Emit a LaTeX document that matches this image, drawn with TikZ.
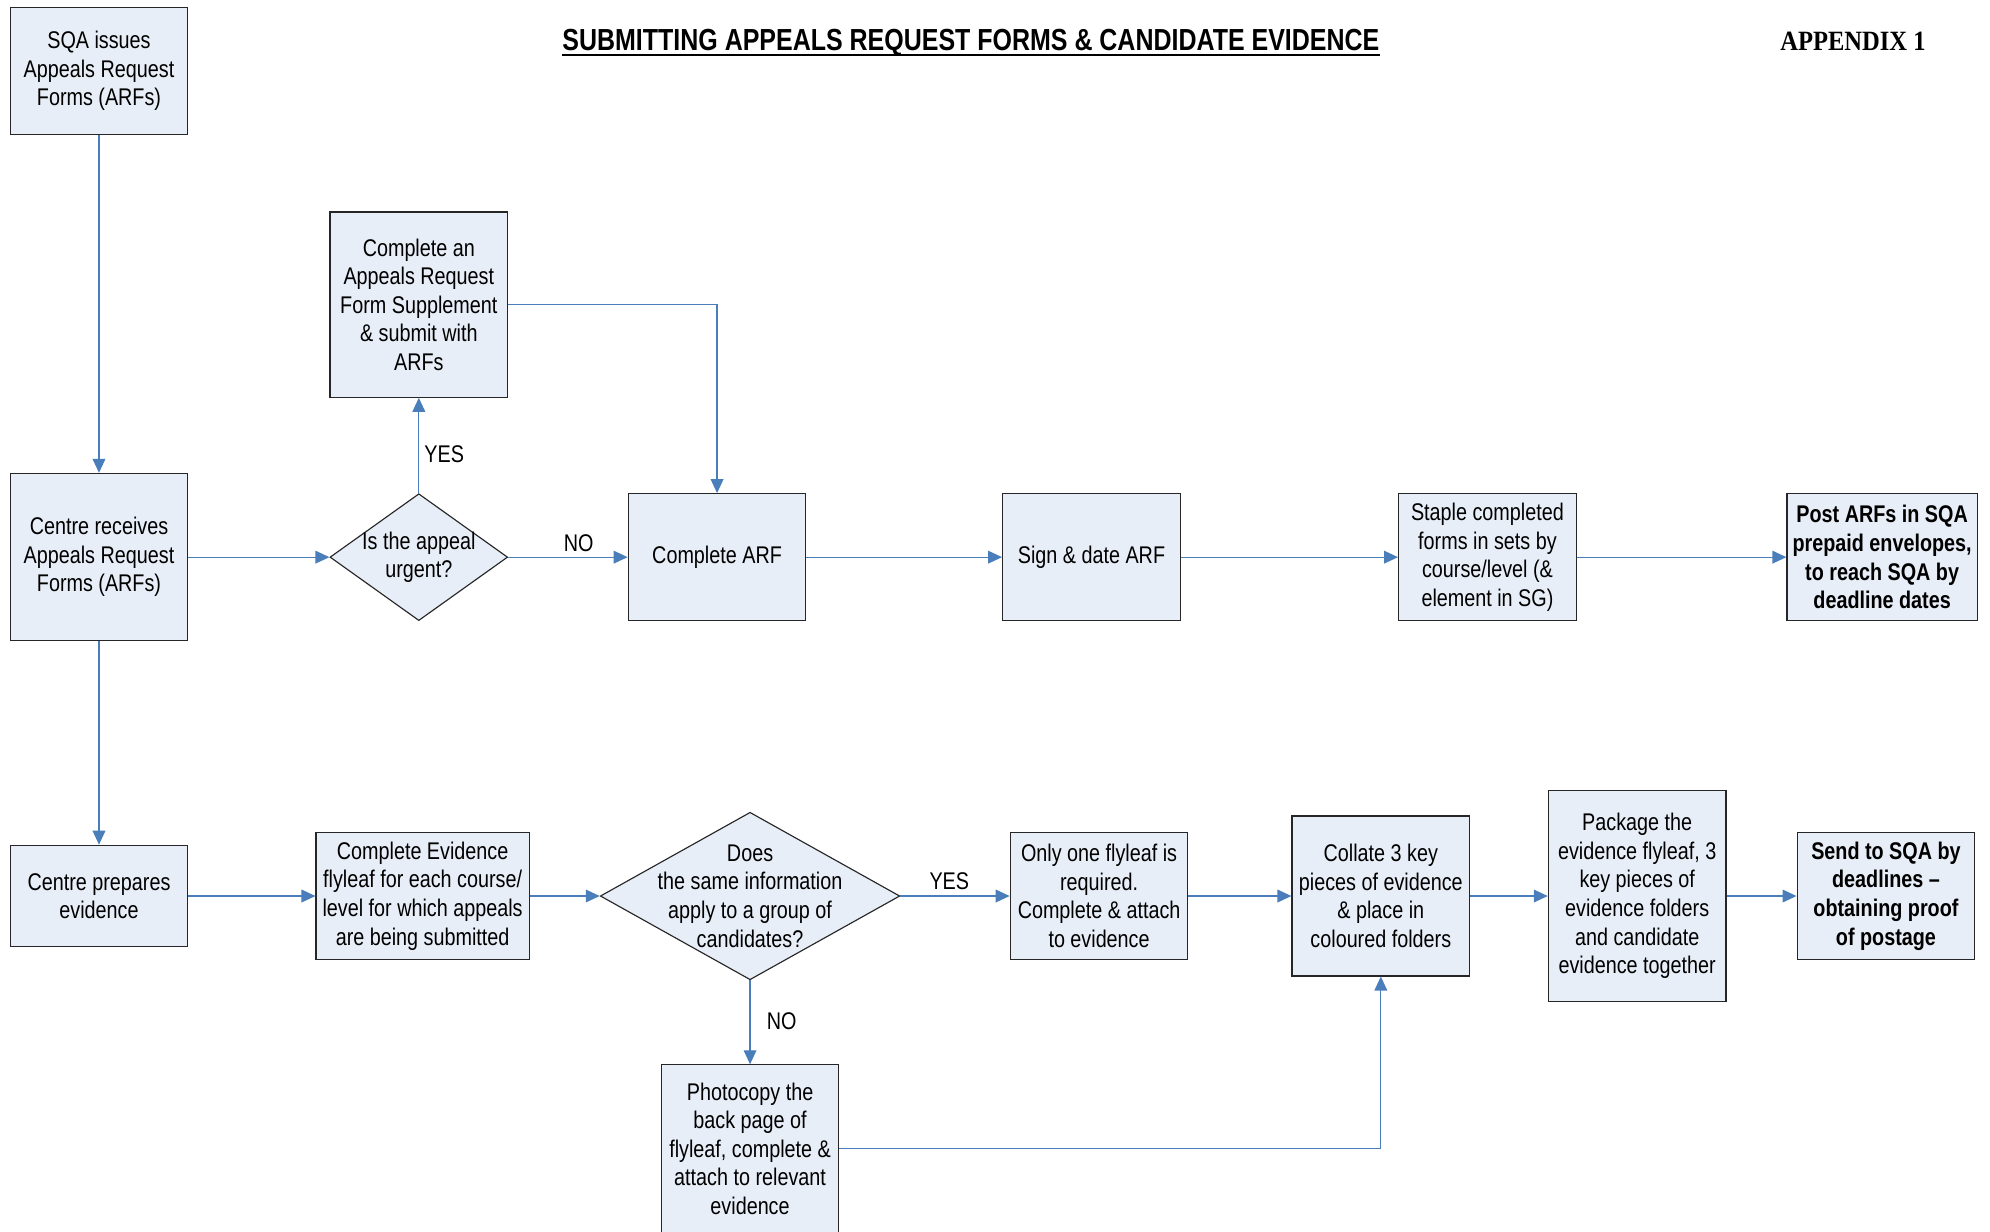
\documentclass[tikz,border=0pt]{standalone}
\usepackage{fontspec}
\setmainfont{Liberation Sans}[FakeStretch=0.82]
\newfontfamily\appxfont{Liberation Serif}[FakeStretch=0.88]
\usetikzlibrary{arrows.meta}
\usetikzlibrary{shapes.geometric}
\definecolor{boxfill}{RGB}{232,238,247}
\definecolor{flowblue}{RGB}{74,126,187}

\begin{document}
\begin{tikzpicture}[x=1pt,y=-1pt]
\tikzset{font=\fontsize{19}{22.5}\selectfont}
\tikzset{stage/.style={draw=black!85, line width=0.9pt, fill=boxfill, align=center, minimum width=140pt, minimum height=100pt, inner sep=2pt}}
\tikzset{query/.style={stage, shape=diamond, inner sep=-20pt}}
\tikzset{strong/.style={font=\fontsize{19}{22.5}\selectfont\bfseries}}
\tikzset{answer/.style={inner sep=0pt}}
\tikzset{flow/.style={draw=flowblue, line width=1pt, -{Triangle[length=11pt,width=10pt]}}}
\useasboundingbox (0,0) rectangle (1568,970);

\node[font=\fontsize{24}{28}\selectfont\bfseries, anchor=base, inner sep=0pt] (title) at (765,40) {SUBMITTING APPEALS REQUEST FORMS \& CANDIDATE EVIDENCE};
\draw[line width=1.6pt] ([yshift=-3pt]title.base west) -- ([yshift=-3pt]title.base east);
\node[font=\appxfont\fontsize{22}{26}\selectfont\bfseries, anchor=base] (appx) at (1460,40) {APPENDIX 1};

\node[stage] (issue) at (78,56) {SQA issues\\Appeals Request\\Forms (ARFs)};
\node[stage, minimum height=132pt] (receive) at (78,439) {Centre receives\\Appeals Request\\Forms (ARFs)};
\node[stage, minimum height=146pt] (supp) at (330,240) {Complete an\\Appeals Request\\Form Supplement\\\& submit with\\ARFs};
\node[query, aspect=1.4] (urgent) at (330,439) {Is the appeal\\urgent?};
\node[stage] (arf) at (565,439) {Complete ARF};
\node[stage] (sign) at (860,439) {Sign \& date ARF};
\node[stage] (staple) at (1172,439) {Staple completed\\forms in sets by\\course/level (\&\\element in SG)};
\node[stage, strong, minimum width=150pt] (post) at (1483,439) {Post ARFs in SQA\\prepaid envelopes,\\to reach SQA by\\deadline dates};

\node[stage, minimum height=80pt] (prep) at (78,706) {Centre prepares\\evidence};
\node[stage, minimum width=168pt] (flyleaf) at (333,706) {Complete Evidence\\flyleaf for each course/\\level for which appeals\\are being submitted};
\node[query, aspect=1.79, minimum width=236pt, minimum height=132pt] (same) at (591,706) {Does\\the same information\\apply to a group of\\candidates?};
\node[stage] (one) at (866,706) {Only one flyleaf is\\required.\\Complete \& attach\\to evidence};
\node[stage, minimum height=126pt] (collate) at (1088,706) {Collate 3 key\\pieces of evidence\\\& place in\\coloured folders};
\node[stage, minimum height=166pt] (package) at (1290,706) {Package the\\evidence flyleaf, 3\\key pieces of\\evidence folders\\and candidate\\evidence together};
\node[stage, strong] (send) at (1486,706) {Send to SQA by\\deadlines --\\obtaining proof\\of postage};
\node[stage, minimum height=132pt] (photo) at (591,905) {Photocopy the\\back page of\\flyleaf, complete \&\\attach to relevant\\evidence};

\node[answer] (urgentyes) at (350,358) {YES};
\node[answer] (urgentno) at (456,428) {NO};
\node[answer] (sameyes) at (748,694) {YES};
\node[answer] (sameno) at (616,805) {NO};

\draw[flow] (issue) -- (receive);
\draw[flow] (receive) -- (urgent);
\draw[flow] (urgent) -- (supp);
\draw[flow] (urgent) -- (arf);
\draw[flow] (supp.east) -| (arf.north);
\draw[flow] (arf) -- (sign);
\draw[flow] (sign) -- (staple);
\draw[flow] (staple) -- (post);
\draw[flow] (receive) -- (prep);
\draw[flow] (prep) -- (flyleaf);
\draw[flow] (flyleaf) -- (same);
\draw[flow] (same) -- (one);
\draw[flow] (same) -- (photo);
\draw[flow] (photo.east) -| (collate.south);
\draw[flow] (one) -- (collate);
\draw[flow] (collate) -- (package);
\draw[flow] (package) -- (send);
\end{tikzpicture}
\end{document}
